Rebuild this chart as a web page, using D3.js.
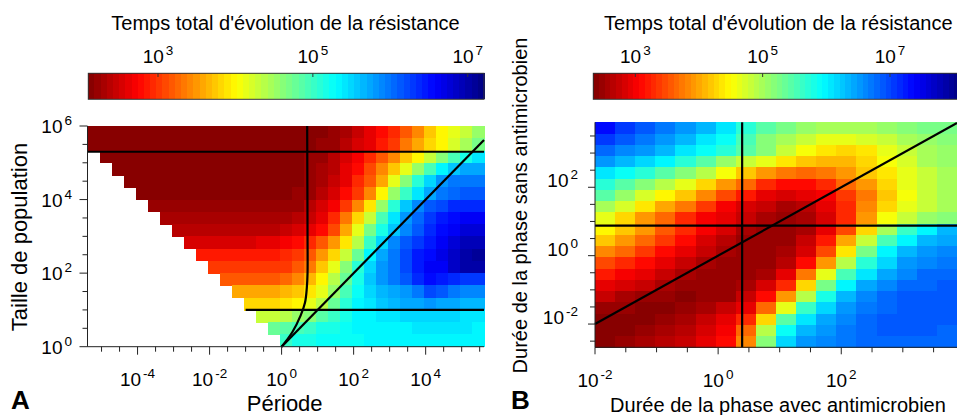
<!DOCTYPE html>
<html>
<head>
<meta charset="utf-8">
<script src="https://cdn.jsdelivr.net/npm/d3@7"></script>
<style>
  body { margin: 0; background: #fff; }
  text { font-family: "Liberation Sans", Arial, sans-serif; fill: #000; }
</style>
</head>
<body>
<svg id="chart" width="957" height="415"></svg>
<script>
// ---------- données (log10) ----------
const _ = null; // hors domaine (blanc)

// panneau A : période (x) / taille de population (y)
const periodeA = [-5.39, 5.62];
const populationA = [0, 6];
const echelleTempsA = [2.1, 7.21];
const tempsA = [
  [2.15,2.15,2.15,2.15,2.15,2.15,2.15,2.15,2.15,2.15,2.15,2.15,2.15,2.15,2.15,2.15,2.15,2.15,2.15,2.15,2.2,2.3,2.45,2.6,2.75,2.95,3.2,3.45,3.7,3.95,4.1,4.3,4.5],
  [2.15,2.15,2.15,2.15,2.15,2.15,2.15,2.15,2.15,2.15,2.15,2.15,2.15,2.15,2.15,2.15,2.15,2.15,2.15,2.2,2.25,2.35,2.5,2.65,2.85,3.05,3.3,3.55,3.8,4.0,4.2,4.45,4.7],
  [_,2.15,2.15,2.15,2.15,2.15,2.15,2.15,2.15,2.15,2.15,2.15,2.15,2.15,2.15,2.15,2.15,2.15,2.2,2.25,2.35,2.5,2.7,2.9,3.15,3.4,3.7,4.0,4.3,4.6,4.9,5.2,5.4],
  [_,_,2.15,2.15,2.15,2.15,2.15,2.15,2.15,2.15,2.15,2.15,2.15,2.15,2.15,2.15,2.15,2.15,2.2,2.3,2.4,2.6,2.8,3.1,3.4,3.75,4.1,4.5,4.9,5.3,5.6,5.7,5.75],
  [_,_,_,2.15,2.15,2.15,2.15,2.15,2.15,2.15,2.15,2.15,2.15,2.15,2.15,2.15,2.15,2.15,2.2,2.3,2.45,2.65,2.9,3.2,3.6,4.1,4.6,5.1,5.5,5.8,5.95,6.0,6.0],
  [_,_,_,_,2.15,2.15,2.15,2.15,2.15,2.15,2.15,2.15,2.15,2.15,2.15,2.15,2.15,2.2,2.25,2.35,2.5,2.75,3.05,3.45,3.95,4.5,5.0,5.4,5.75,5.95,6.05,6.1,6.15],
  [_,_,_,_,_,2.2,2.2,2.2,2.2,2.2,2.2,2.2,2.2,2.2,2.2,2.2,2.2,2.25,2.35,2.5,2.7,3.0,3.4,3.9,4.5,5.1,5.6,5.9,6.1,6.25,6.35,6.4,6.4],
  [_,_,_,_,_,_,2.3,2.3,2.3,2.3,2.3,2.3,2.3,2.3,2.3,2.3,2.3,2.35,2.45,2.65,2.9,3.3,3.8,4.3,4.9,5.4,5.8,6.05,6.3,6.45,6.55,6.6,6.6],
  [_,_,_,_,_,_,_,2.4,2.4,2.4,2.4,2.4,2.4,2.4,2.4,2.4,2.45,2.5,2.6,2.8,3.1,3.55,4.1,4.7,5.2,5.6,5.9,6.15,6.35,6.5,6.65,6.75,6.75],
  [_,_,_,_,_,_,_,_,2.55,2.55,2.55,2.55,2.55,2.55,2.6,2.65,2.7,2.75,2.9,3.2,3.5,3.9,4.4,5.0,5.5,5.9,6.1,6.3,6.45,6.6,6.75,6.9,6.9],
  [_,_,_,_,_,_,_,_,_,2.85,2.85,2.85,2.85,2.85,2.85,2.85,2.9,3.0,3.2,3.5,3.85,4.3,4.8,5.3,5.7,5.95,6.2,6.45,6.55,6.7,6.85,7.05,7.1],
  [_,_,_,_,_,_,_,_,_,_,3.0,3.0,3.0,3.0,3.0,3.0,3.05,3.15,3.35,3.7,4.1,4.6,5.1,5.5,5.85,6.0,6.2,6.45,6.6,6.65,6.85,7.0,7.05],
  [_,_,_,_,_,_,_,_,_,_,_,3.2,3.2,3.2,3.2,3.2,3.25,3.4,3.65,3.95,4.35,4.8,5.2,5.55,5.8,5.95,6.1,6.35,6.5,6.45,6.35,6.3,6.3],
  [_,_,_,_,_,_,_,_,_,_,_,_,3.6,3.6,3.6,3.6,3.65,3.75,3.9,4.15,4.5,4.9,5.25,5.5,5.65,5.75,5.85,6.0,6.2,6.1,5.95,5.9,5.9],
  [_,_,_,_,_,_,_,_,_,_,_,_,_,3.85,3.85,3.85,3.9,4.0,4.15,4.4,4.75,5.1,5.3,5.45,5.55,5.65,5.7,5.75,5.8,5.75,5.7,5.65,5.65],
  [_,_,_,_,_,_,_,_,_,_,_,_,_,_,4.3,4.3,4.4,4.5,4.65,4.85,5.05,5.2,5.3,5.35,5.4,5.45,5.5,5.5,5.5,5.5,5.5,5.45,5.45],
  [_,_,_,_,_,_,_,_,_,_,_,_,_,_,_,4.75,4.85,4.95,5.05,5.15,5.2,5.25,5.3,5.3,5.35,5.35,5.35,5.4,5.4,5.4,5.4,5.4,5.35],
  [_,_,_,_,_,_,_,_,_,_,_,_,_,_,_,_,5.05,5.15,5.2,5.25,5.25,5.25,5.25,5.3,5.3,5.3,5.3,5.3,5.3,5.3,5.3,5.3,5.3]
];
const seuilHautA = 5.3;   // ligne horizontale haute
const seuilBasA = 1;      // ligne horizontale basse, depuis période 10^-1
const courbeA = [[0,0],[0.3,0.4],[0.53,0.85],[0.65,1.2],[0.7,1.6],[0.72,2.0],[0.72,3.0],[0.71,6]];
const ticksXA = [-4, -2, 0, 2, 4];
const ticksYA = [0, 2, 4, 6];

// panneau B : durée avec (x) / sans antimicrobien (y)
const avecB = [-2, 3.88];
const sansB = [-2.68, 3.9];
const echelleTempsB = [2.34, 8.1];
const tempsB = [
  [7.3,7.1,6.9,6.7,6.5,6.3,6.05,5.75,5.45,5.25,5.1,5.0,4.95,5.0,5.1,5.2,5.25,5.25],
  [7.05,6.9,6.7,6.5,6.3,6.1,5.85,5.5,5.2,5.0,4.8,4.65,4.6,4.7,4.85,5.0,5.1,5.15],
  [6.8,6.65,6.5,6.3,6.1,5.9,5.7,5.45,5.15,4.85,4.55,4.35,4.3,4.4,4.6,4.85,5.0,5.1],
  [6.5,6.35,6.15,5.95,5.7,5.4,5.1,4.85,4.6,4.35,4.15,4.05,4.1,4.25,4.5,4.75,4.95,5.05],
  [6.05,5.9,5.7,5.45,5.2,4.9,4.55,4.2,3.95,3.75,3.65,3.7,3.9,4.15,4.4,4.6,4.8,4.95],
  [5.75,5.45,5.15,4.9,4.6,4.3,3.95,3.6,3.3,3.1,3.1,3.3,3.6,3.95,4.3,4.6,4.8,4.95],
  [5.45,5.1,4.75,4.45,4.15,3.8,3.45,3.15,2.95,2.85,2.9,3.05,3.35,3.75,4.2,4.55,4.8,4.95],
  [5.0,4.7,4.35,4.0,3.7,3.35,3.05,2.85,2.7,2.6,2.65,2.9,3.3,3.8,4.3,4.65,4.85,4.95],
  [4.65,4.3,3.95,3.6,3.3,3.05,2.9,2.7,2.55,2.5,2.55,2.8,3.3,3.95,4.5,4.85,5.05,5.15],
  [4.45,4.2,3.9,3.55,3.25,3.0,2.8,2.6,2.5,2.5,2.6,2.9,3.5,4.3,5.0,5.6,6.0,6.3],
  [4.2,3.95,3.65,3.35,3.1,2.85,2.65,2.5,2.45,2.5,2.75,3.2,4.0,4.8,5.5,6.0,6.3,6.45],
  [3.85,3.6,3.35,3.1,2.9,2.7,2.55,2.45,2.45,2.55,2.8,3.5,4.4,5.3,5.95,6.3,6.5,6.6],
  [3.5,3.3,3.1,2.9,2.75,2.6,2.5,2.45,2.5,2.65,3.1,3.9,4.9,5.7,6.2,6.5,6.65,6.7],
  [3.2,3.05,2.9,2.75,2.6,2.5,2.45,2.45,2.6,2.9,3.7,4.6,5.5,6.1,6.45,6.65,6.75,6.8],
  [2.95,2.85,2.75,2.6,2.5,2.45,2.45,2.55,2.8,3.3,4.3,5.3,6.0,6.4,6.65,6.75,6.8,6.85],
  [2.7,2.6,2.5,2.45,2.4,2.45,2.5,2.7,3.1,3.9,4.9,5.8,6.3,6.6,6.75,6.85,6.85,6.85],
  [2.5,2.45,2.4,2.4,2.45,2.55,2.7,2.95,3.6,4.6,5.6,6.2,6.5,6.7,6.8,6.85,6.9,6.9],
  [2.4,2.4,2.4,2.45,2.55,2.7,2.9,3.3,4.3,5.4,6.1,6.45,6.65,6.75,6.85,6.9,6.9,6.85],
  [2.35,2.4,2.45,2.55,2.65,2.8,3.0,3.6,4.9,5.9,6.35,6.55,6.7,6.8,6.85,6.85,6.85,6.8],
  [2.35,2.45,2.6,2.65,2.75,2.9,3.1,3.8,5.2,6.2,6.5,6.6,6.7,6.75,6.8,6.8,6.8,6.75]
];
const avecRefB = 0.39;   // ligne verticale
const sansRefB = 0.88;   // ligne horizontale
const ticksXB = [-2, 0, 2];
const ticksYB = [-2, 0, 2];
const ticksBarre = [3, 5, 7];

// ---------- couleurs (jet inversé, 64 niveaux) ----------
const jetInv = d3.scaleLinear()
  .domain([0, 0.125, 0.375, 0.625, 0.875, 1])
  .range(['#800000', '#ff0000', '#ffff00', '#00ffff', '#0000ff', '#000080'])
  .clamp(true);
const niveau = t => (Math.max(0, Math.min(63, Math.floor(t * 64))) + 0.5) / 64;
const couleur = dom => v => jetInv(niveau((v - dom[0]) / (dom[1] - dom[0])));

const svg = d3.select('#chart');

function puissance(sel, e) {
  sel.append('tspan').text('10');
  sel.append('tspan').attr('dx', 2).attr('dy', -8).style('font-size', '13.5px').text(e);
}

function carte(g, data, x, y, xd, yd, col) {
  const nr = data.length, nc = data[0].length;
  const sx = (xd[1] - xd[0]) / nc, sy = (yd[1] - yd[0]) / nr;
  const cells = [];
  data.forEach((row, j) => row.forEach((v, i) => { if (v !== null) cells.push({ i, j, v }); }));
  g.selectAll('rect').data(cells).join('rect')
    .attr('x', d => x(xd[0] + d.i * sx))
    .attr('y', d => y(yd[1] - d.j * sy))
    .attr('width', d => x(xd[0] + (d.i + 1) * sx) - x(xd[0] + d.i * sx) + 0.6)
    .attr('height', d => y(yd[1] - (d.j + 1) * sy) - y(yd[1] - d.j * sy) + 0.6)
    .attr('fill', d => col(d.v))
    .attr('shape-rendering', 'crispEdges');
}

function barre(g, x0, x1, dom, titre, cx) {
  const s = d3.scaleLinear().domain(dom).range([x0, x1]);
  const col = couleur(dom);
  const pas = (dom[1] - dom[0]) / 64;
  g.selectAll('rect.b').data(d3.range(64)).join('rect').attr('class', 'b')
    .attr('x', k => s(dom[0] + k * pas)).attr('y', 73.3)
    .attr('width', k => s(dom[0] + (k + 1) * pas) - s(dom[0] + k * pas) + 0.5)
    .attr('height', 26)
    .attr('fill', k => col(dom[0] + (k + 0.5) * pas))
    .attr('shape-rendering', 'crispEdges');
  g.append('rect').attr('x', x0).attr('y', 73.3).attr('width', x1 - x0).attr('height', 26)
    .attr('fill', 'none').attr('stroke', '#333').attr('stroke-width', 1);
  ticksBarre.forEach(t => {
    g.append('line').attr('x1', s(t)).attr('x2', s(t)).attr('y1', 73.3).attr('y2', 77)
      .attr('stroke', '#333');
    g.append('text').attr('x', s(t)).attr('y', 63.3).attr('text-anchor', 'middle')
      .style('font-size', '19px').call(puissance, t);
  });
  g.append('text').attr('x', cx).attr('y', 29.5).attr('text-anchor', 'middle')
    .style('font-size', '20px').text(titre);
}

function axes(g, x, y, xv, yv, xt, yt, opt) {
  const [xa, xb] = x.range(), [ya, yb] = y.range();
  g.append('line').attr('x1', xa).attr('x2', xb).attr('y1', ya).attr('y2', ya).attr('stroke', '#222');
  g.append('line').attr('x1', xa).attr('x2', xa).attr('y1', ya).attr('y2', yb).attr('stroke', '#222');
  xv.forEach(v => {
    const lab = xt.includes(v);
    g.append('line').attr('x1', x(v)).attr('x2', x(v)).attr('y1', ya)
      .attr('y2', ya + (lab ? opt.long : opt.court)).attr('stroke', '#222');
  });
  yv.forEach(v => {
    const lab = yt.includes(v);
    g.append('line').attr('y1', y(v)).attr('y2', y(v)).attr('x1', xa)
      .attr('x2', xa - (lab ? opt.long : opt.court)).attr('stroke', '#222');
  });
  xt.forEach(v => g.append('text').attr('x', x(v)).attr('y', opt.xBase)
    .attr('text-anchor', 'middle').style('font-size', '19px').call(puissance, v));
  yt.forEach(v => g.append('text').attr('x', xa - opt.yGap).attr('y', y(v) + opt.yOff)
    .attr('text-anchor', 'end').style('font-size', '19px').call(puissance, v));
}

const trait = d3.line().x(d => d[0]).y(d => d[1]);

// ---------- panneau A ----------
const gA = svg.append('g');
const xA = d3.scaleLinear().domain(periodeA).range([87.5, 484]);
const yA = d3.scaleLinear().domain(populationA).range([346.7, 126]);
carte(gA.append('g'), tempsA, xA, yA, periodeA, populationA, couleur(echelleTempsA));

const lA = gA.append('g').attr('fill', 'none').attr('stroke', '#000').attr('stroke-width', 2.2);
lA.append('path').attr('d', trait([[xA(periodeA[0]), yA(seuilHautA)], [xA(periodeA[1]), yA(seuilHautA)]]));
lA.append('path').attr('d', trait([[xA(-seuilBasA), yA(seuilBasA)], [xA(periodeA[1]), yA(seuilBasA)]]));
lA.append('path').attr('d', trait([[xA(0), yA(0)], [xA(periodeA[1]), yA(periodeA[1])]]));
lA.append('path').attr('d', d3.line().x(d => xA(d[0])).y(d => yA(d[1])).curve(d3.curveCatmullRom)(courbeA));

axes(gA, xA, yA, d3.range(-5, 5.51, 0.5), d3.range(0, 6.01, 0.5), ticksXA, ticksYA,
  { long: 8, court: 5, xBase: 386, yGap: 15.5, yOff: 7 });
barre(gA.append('g'), 88.3, 484, echelleTempsA, "Temps total d'évolution de la résistance", 285.5);

gA.append('text').attr('x', 284.7).attr('y', 410.5).attr('text-anchor', 'middle')
  .style('font-size', '22px').text('Période');
gA.append('text').attr('transform', 'translate(27,237) rotate(-90)').attr('text-anchor', 'middle')
  .style('font-size', '22px').text('Taille de population');
gA.append('text').attr('x', 11).attr('y', 409).style('font-size', '26px').style('font-weight', 'bold').text('A');

// ---------- panneau B ----------
const gB = svg.append('g');
const xB = d3.scaleLinear().domain(avecB).range([595, 957]);
const yB = d3.scaleLinear().domain(sansB).range([347.3, 122.3]);
carte(gB.append('g'), tempsB, xB, yB, avecB, sansB, couleur(echelleTempsB));

const lB = gB.append('g').attr('fill', 'none').attr('stroke', '#000').attr('stroke-width', 2.2);
lB.append('path').attr('d', trait([[xB(avecRefB), yB(sansB[0])], [xB(avecRefB), yB(sansB[1])]]));
lB.append('path').attr('d', trait([[xB(avecB[0]), yB(sansRefB)], [xB(avecB[1]), yB(sansRefB)]]));
lB.append('path').attr('d', trait([[xB(avecB[0]), yB(avecB[0])], [xB(avecB[1]), yB(avecB[1])]]));

axes(gB, xB, yB, d3.range(-2, 3.51, 0.5), d3.range(-2.5, 3.51, 0.5), ticksXB, ticksYB,
  { long: 7, court: 5, xBase: 386.7, yGap: 17, yOff: 0 });
barre(gB.append('g'), 593.3, 960, echelleTempsB, "Temps total d'évolution de la résistance", 778.3);

gB.append('text').attr('x', 778).attr('y', 411.5).attr('text-anchor', 'middle')
  .style('font-size', '20px').text('Durée de la phase avec antimicrobien');
gB.append('text').attr('transform', 'translate(527,205.5) rotate(-90)').attr('text-anchor', 'middle')
  .style('font-size', '20px').text('Durée de la phase sans antimicrobien');
gB.append('text').attr('x', 511).attr('y', 409).style('font-size', '26px').style('font-weight', 'bold').text('B');
</script>
</body>
</html>
